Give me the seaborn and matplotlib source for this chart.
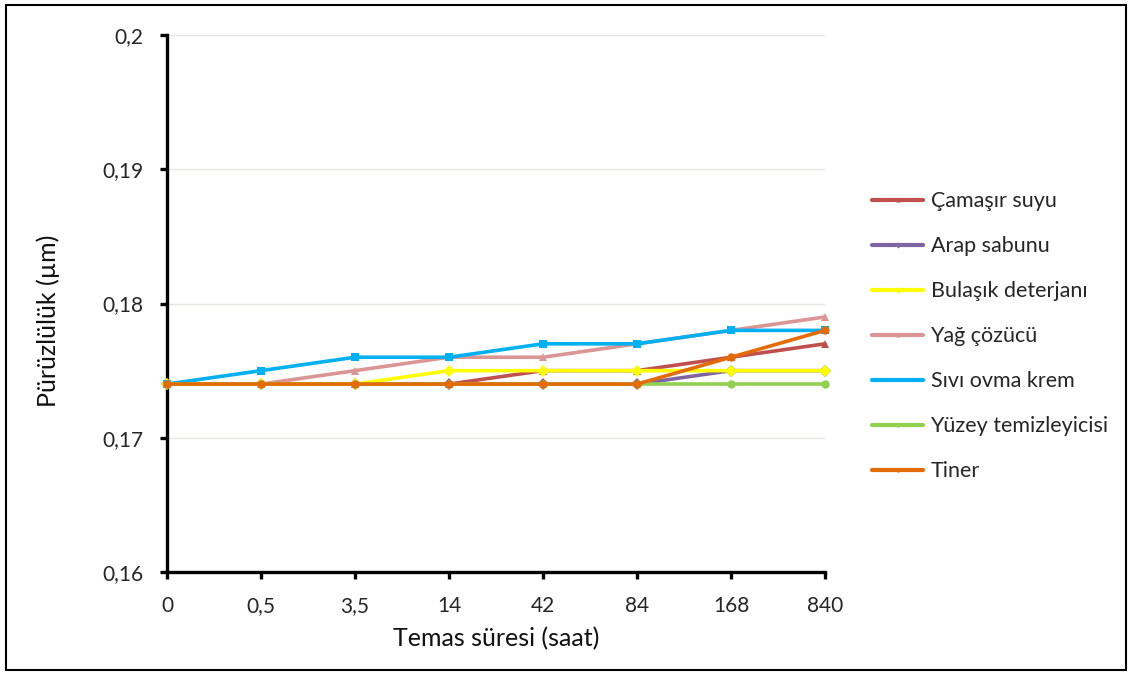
import matplotlib
matplotlib.use("Agg")
import matplotlib.pyplot as plt
import seaborn as sns
import pandas as pd
from matplotlib.patches import Rectangle

# Contact time categories (hours) and roughness measurements (µm)
times = ["0", "0,5", "3,5", "14", "42", "84", "168", "840"]

camasir_suyu = [0.174, 0.174, 0.174, 0.174, 0.175, 0.175, 0.176, 0.177]
arap_sabunu = [0.174, 0.174, 0.174, 0.174, 0.174, 0.174, 0.175, 0.175]
bulasik_deterjani = [0.174, 0.174, 0.174, 0.175, 0.175, 0.175, 0.175, 0.175]
yag_cozucu = [0.174, 0.174, 0.175, 0.176, 0.176, 0.177, 0.178, 0.179]
sivi_ovma_krem = [0.174, 0.175, 0.176, 0.176, 0.177, 0.177, 0.178, 0.178]
yuzey_temizleyicisi = [0.174, 0.174, 0.174, 0.174, 0.174, 0.174, 0.174, 0.174]
tiner = [0.174, 0.174, 0.174, 0.174, 0.174, 0.174, 0.176, 0.178]

series_names = ["Çamaşır suyu", "Arap sabunu", "Bulaşık deterjanı", "Yağ çözücü",
                "Sıvı ovma krem", "Yüzey temizleyicisi", "Tiner"]
series_values = [camasir_suyu, arap_sabunu, bulasik_deterjani, yag_cozucu,
                 sivi_ovma_krem, yuzey_temizleyicisi, tiner]
colors = ["#C0504D", "#8064A2", "#FFFF00", "#D99694", "#00B0F0", "#92D050", "#E36C09"]
markers = ["^", "D", "D", "^", "s", "o", "o"]
y_ticks = [0.16, 0.17, 0.18, 0.19, 0.20]
y_tick_labels = ["0,16", "0,17", "0,18", "0,19", "0,2"]

sns.set_theme(style="white")
plt.rcParams["font.family"] = ["Lato", "DejaVu Sans"]

fig = plt.figure(figsize=(11.32, 6.75), dpi=100)
ax = fig.add_axes([0.1475, 0.1526, 0.5813, 0.7954])

rows = []
for name, vals in zip(series_names, series_values):
    for i, v in enumerate(vals):
        rows.append({"pos": i, "value": v, "series": name})
df = pd.DataFrame(rows)

for name, color, mk in zip(series_names, colors, markers):
    sub = df[df["series"] == name]
    sns.lineplot(data=sub, x="pos", y="value", ax=ax, color=color, linewidth=2.6,
                 marker=mk, markersize=6, markeredgewidth=0, label=name,
                 zorder=3, clip_on=False)

ax.set_xlim(0, len(times) - 1)
ax.set_ylim(0.16, 0.20)
ax.set_xticks(range(len(times)))
ax.set_xticklabels(times)
ax.set_yticks(y_ticks)
ax.set_yticklabels(y_tick_labels)

ax.yaxis.grid(True, color="#E6E6E0", linewidth=1)
ax.xaxis.grid(False)
ax.set_axisbelow(True)

for side in ["top", "right"]:
    ax.spines[side].set_visible(False)
for side in ["left", "bottom"]:
    ax.spines[side].set_color("black")
    ax.spines[side].set_linewidth(2.4)

ax.tick_params(axis="both", which="major", direction="out", length=5, width=2.4,
               color="black", labelsize=15, labelcolor="#262626", left=True, bottom=True)
ax.tick_params(axis="y", pad=12)
ax.tick_params(axis="x", pad=12)

ax.set_xlabel("Temas süresi (saat)", fontsize=18, color="#111111", labelpad=8)
ax.set_ylabel("Pürüzlülük (µm)", fontsize=18, color="#111111", labelpad=0)
ax.yaxis.set_label_coords(-0.163, 0.467)

leg = ax.legend(loc="upper left", bbox_to_anchor=(1.072, 0.709), frameon=False,
                fontsize=15.5, handlelength=2.35, handletextpad=0.35,
                labelspacing=1.16, borderaxespad=0, borderpad=0)
for line in leg.get_lines():
    line.set_linewidth(3)
    line.set_markersize(3)

# Outer chart frame
fig.patches.append(Rectangle((0.005, 0.008), 0.99, 0.985, transform=fig.transFigure,
                             fill=False, edgecolor="black", linewidth=1.5))

fig.savefig("out.png", dpi=100)
